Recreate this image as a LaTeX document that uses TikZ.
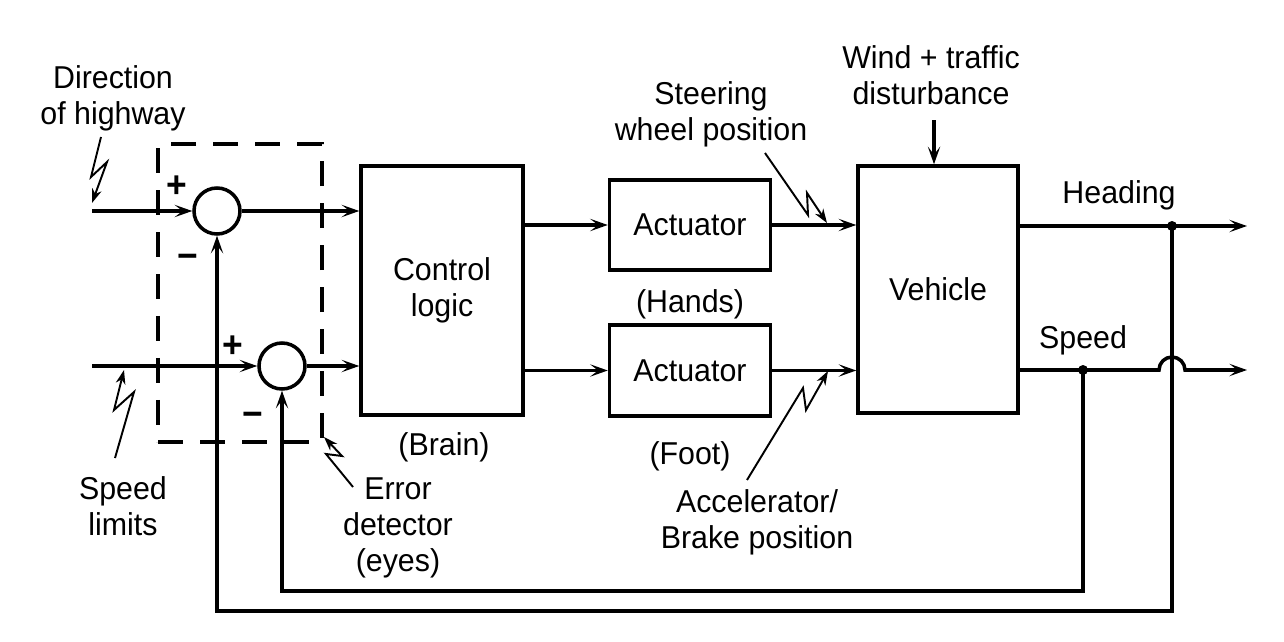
\documentclass[tikz,border=0pt]{standalone}
\usepackage{fontspec}
\setmainfont{Liberation Sans}[FakeStretch=0.96]
\usetikzlibrary{arrows.meta}

\tikzset{
  sig/.style={line width=2pt, -{Stealth[length=10pt,width=7pt,inset=4.5pt]}},
  blk/.style={draw, line width=2pt, inner sep=0pt, align=center},
  sumjn/.style={draw, circle, line width=2pt, minimum size=0.92cm, inner sep=0pt},
  bolt/.style={line width=1.1pt, -{Stealth[length=8pt,width=5.5pt,inset=2.5pt]}},
  lbl/.style={inner sep=0pt, align=center},
  sgn/.style={inner sep=0pt, font=\bfseries\fontsize{21}{21}\selectfont},
  detbox/.style={draw, line width=2pt, dash pattern=on 0.5cm off 0.34cm},
  jdot/.style={fill, circle, inner sep=0pt, minimum size=0.2cm},
}

\begin{document}
\begin{tikzpicture}[x=0.02cm, y=-0.02cm, font=\fontsize{18}{20.5}\selectfont]
\useasboundingbox (0,0) rectangle (1284,642);

%%%----------Error detector----------%%%
\node [detbox, minimum width=3.28cm, minimum height=5.96cm] (det) at (240,293) {};
\node [sumjn] (sum1) at (217,211) {};
\node [sumjn] (sum2) at (282,366) {};
\node [sgn] at (177,187) {+};
\node [sgn] at (188,261) {−};
\node [sgn] at (233,347) {+};
\node [sgn] at (253,419) {−};

%%%----------Blocks----------%%%
\node [blk, minimum width=3.24cm, minimum height=4.98cm] (ctrl) at (442,290.5) {Control\\logic};
\node [blk, minimum width=3.22cm, minimum height=1.8cm] (act1) at (690,225) {Actuator};
\node [blk, minimum width=3.22cm, minimum height=1.82cm] (act2) at (690,370.5) {Actuator};
\node [blk, minimum width=3.2cm, minimum height=4.94cm] (veh) at (938,289.5) {Vehicle};

%%%----------Labels----------%%%
\node [lbl, anchor=north] (dirlbl) at (113,65) {Direction\\of highway};
\node [lbl, anchor=north] (limlbl) at (123,476) {Speed\\limits};
\node [lbl, anchor=north] (errlbl) at (398,477) {Error\\detector\\(eyes)};
\node [lbl, anchor=base] (brainlbl) at (444,455) {(Brain)};
\node [lbl, anchor=base] (handlbl) at (690,312) {(Hands)};
\node [lbl, anchor=base] (footlbl) at (690,464) {(Foot)};
\node [lbl, anchor=north] (steerlbl) at (711,81) {Steering\\wheel position};
\node [lbl, anchor=north] (accllbl) at (757,489) {Accelerator/\\Brake position};
\node [lbl, anchor=north] (windlbl) at (931,45) {Wind + traffic\\disturbance};
\node [lbl, anchor=base] (headlbl) at (1119,203) {Heading};
\node [lbl, anchor=base] (speedlbl) at (1083,348) {Speed};

%%%----------Free ends----------%%%
\coordinate (dir) at (92,211);
\coordinate (lim) at (92,366);
\coordinate (hd) at (1172,226);
\coordinate (hdout) at (1247,226);
\coordinate (sp) at (1083,370);
\coordinate (spout) at (1247,370);
\coordinate (fbh) at (1172,611);
\coordinate (fbs) at (1083,591);
\coordinate (wd) at (934,120);

%%%----------Signals----------%%%
\draw [sig] (dir) -- (sum1.west);
\draw [sig] (lim) -- (sum2.west);
\draw [sig] (sum1.east) -- (sum1.east -| ctrl.west);
\draw [sig] (sum2.east) -- (sum2.east -| ctrl.west);
\draw [sig] (ctrl.east |- act1.west) -- (act1.west);
\draw [sig] (ctrl.east |- act2.west) -- (act2.west);
\draw [sig] (act1.east) -- (act1.east -| veh.west);
\draw [sig] (act2.east) -- (act2.east -| veh.west);
\draw [sig] (wd) -- (wd |- veh.north);
\draw [sig] (veh.east |- hd) -- (hdout);
\draw [sig] (veh.east |- sp) -- ([xshift=-0.26cm]hd |- sp) arc [start angle=180, end angle=0, radius=0.26cm] -- (spout);

%%%----------Feedback----------%%%
\draw [sig] (hd) -- (fbh) -- (fbh -| sum1) -- (sum1.south);
\draw [sig] (sp) -- (fbs) -- (fbs -| sum2) -- (sum2.south);
\node [jdot] at (hd) {};
\node [jdot] at (sp) {};

%%%----------Pointers----------%%%
\coordinate (dirbolt) at (101,137);
\coordinate (limbolt) at (115,458);
\coordinate (errbolt) at (353,487);
\coordinate (steerbolt) at (765,153);
\coordinate (acclbolt) at (747,480);
\draw [bolt] (dirbolt) -- ++(-10,40) -- ++(16,-15) -- ++(-15,41);
\draw [bolt] (limbolt) -- ++(19,-66) -- ++(-20,18) -- ++(10,-40);
\draw [bolt] (errbolt) -- ++(-27,-33) -- ++(16,2) -- ++(-18,-19);
\draw [bolt] (steerbolt) -- ++(43,62) -- ++(-1,-22) -- ++(20,30);
\draw [bolt] (acclbolt) -- ++(56,-92) -- ++(3,22) -- ++(22,-39);

\end{tikzpicture}
\end{document}
